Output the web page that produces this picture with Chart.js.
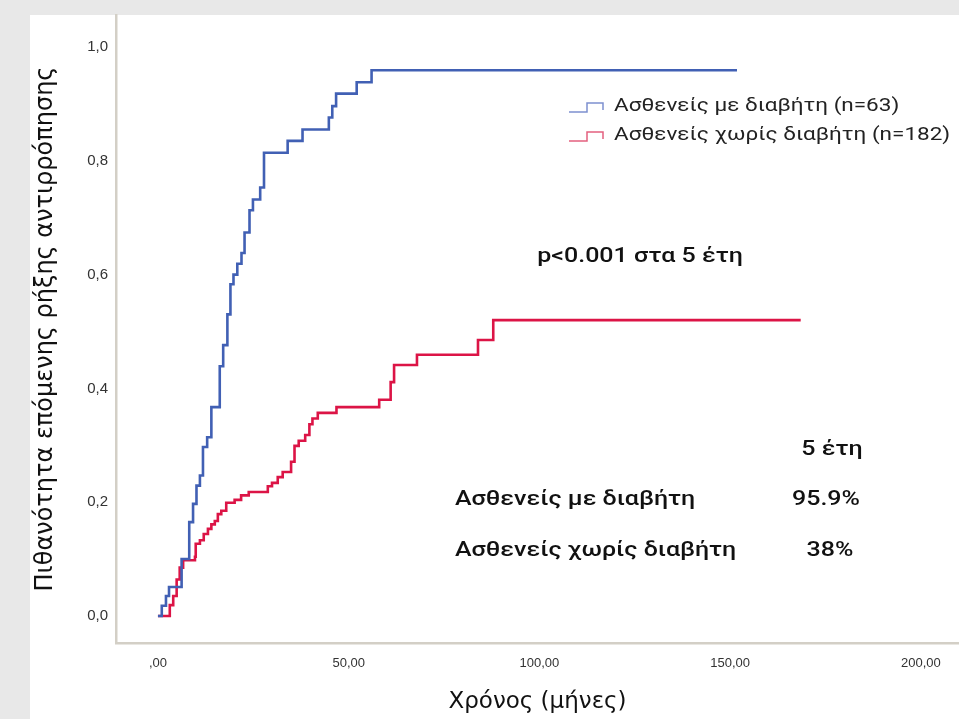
<!DOCTYPE html>
<html>
<head>
<meta charset="utf-8">
<script src="https://cdn.jsdelivr.net/npm/chart.js@4.4.1/dist/chart.umd.min.js"></script>
<style>
  html, body { margin: 0; padding: 0; background: #e8e8e8; }
  #wrap { position: absolute; left: 0; top: 0; width: 959px; height: 719px; }
</style>
</head>
<body>
<div id="wrap"><canvas id="c" width="959" height="719"></canvas></div>
<script>
// ---- Data ----
const seriesNames = ['Ασθενείς με διαβήτη (n=63)', 'Ασθενείς χωρίς διαβήτη (n=182)'];

const diabTimes = [0, 1.0, 2.1, 2.9, 6.2, 8.2, 9.2, 10.1, 11.0, 11.8, 12.9, 14.0, 16.2, 17.1, 18.2, 19.0, 19.8, 20.8, 21.9, 22.7, 24.0, 24.9, 26.8, 27.8, 34.0, 37.9, 44.8, 45.7, 46.7, 52.1, 56.0, 151.8];
const diabProbs = [0, 0.018, 0.035, 0.051, 0.100, 0.165, 0.197, 0.229, 0.247, 0.297, 0.314, 0.367, 0.439, 0.476, 0.530, 0.583, 0.600, 0.619, 0.638, 0.674, 0.713, 0.732, 0.753, 0.814, 0.835, 0.855, 0.876, 0.896, 0.918, 0.938, 0.959, 0.959];

const noDiabTimes = [0, 3.1, 4.0, 4.9, 5.7, 6.6, 9.7, 9.9, 11.0, 12.0, 13.1, 14.0, 14.9, 15.7, 16.6, 17.9, 20.1, 21.8, 23.8, 28.8, 29.9, 31.4, 32.7, 34.9, 35.8, 36.9, 38.6, 39.7, 40.5, 41.9, 46.8, 58.0, 61.0, 61.9, 67.9, 83.9, 87.9, 168.5];
const noDiabProbs = [0, 0.019, 0.035, 0.064, 0.085, 0.098, 0.104, 0.127, 0.133, 0.144, 0.153, 0.161, 0.167, 0.179, 0.185, 0.199, 0.204, 0.212, 0.218, 0.228, 0.234, 0.244, 0.253, 0.271, 0.299, 0.308, 0.318, 0.337, 0.347, 0.357, 0.367, 0.380, 0.411, 0.441, 0.459, 0.485, 0.520, 0.520];

const yTickValues = [0, 0.2, 0.4, 0.6, 0.8, 1.0];
const yTickLabels = ['0,0', '0,2', '0,4', '0,6', '0,8', '1,0'];
const xTickValues = [0, 50, 100, 150, 200];
const xTickLabels = [',00', '50,00', '100,00', '150,00', '200,00'];

const xTitle = 'Χρόνος (μήνες)';
const yTitle = 'Πιθανότητα επόμενης ρήξης αντιρρόπησης';
const pText = 'p<0.001 στα 5 έτη';
const tableHeader = '5 έτη';
const tableRows = ['Ασθενείς με διαβήτη', 'Ασθενείς χωρίς διαβήτη'];
const tableValues = ['95.9%', '38%'];

const blue = '#4160b4';
const red = '#dc1446';
const blueLegend = '#7d90cf';
const redLegend = '#e4607f';

function toPoints(xs, ys) { return xs.map((x, i) => ({ x: x, y: ys[i] })); }

function wideText(ctx, text, x, y, align, font, sx) {
  ctx.save();
  ctx.translate(x, y);
  ctx.scale(sx, 1);
  ctx.font = font;
  ctx.textAlign = align;
  ctx.textBaseline = 'middle';
  ctx.fillText(text, 0, 0);
  ctx.restore();
}

const bgPlugin = {
  id: 'bg',
  beforeDraw(chart) {
    const ctx = chart.ctx;
    ctx.save();
    ctx.fillStyle = '#e8e8e8';
    ctx.fillRect(0, 0, chart.width, chart.height);
    ctx.fillStyle = '#ffffff';
    ctx.fillRect(30, 15, chart.width - 30, chart.height - 15);
    ctx.restore();
  }
};

const annotPlugin = {
  id: 'annot',
  afterDraw(chart) {
    const ctx = chart.ctx;
    ctx.save();
    // legend
    const legendFont = '18px Roboto';
    const items = [
      { y: 104, color: blueLegend, text: seriesNames[0] },
      { y: 133, color: redLegend, text: seriesNames[1] }
    ];
    items.forEach(it => {
      ctx.strokeStyle = it.color;
      ctx.lineWidth = 1.5;
      ctx.beginPath();
      ctx.moveTo(569, it.y + 8);
      ctx.lineTo(587, it.y + 8);
      ctx.lineTo(587, it.y - 1);
      ctx.lineTo(603, it.y - 1);
      ctx.lineTo(603, it.y + 6);
      ctx.stroke();
      ctx.fillStyle = '#222222';
      wideText(ctx, it.text, 614, it.y + 2, 'left', legendFont, 1.25);
    });
    // p-value and table
    ctx.fillStyle = '#111111';
    const f = '500 20px Roboto';
    const sx = 1.25;
    wideText(ctx, pText, 640, 257, 'center', f, sx);
    wideText(ctx, tableHeader, 832, 450, 'center', f, sx);
    wideText(ctx, tableRows[0], 455, 500, 'left', f, sx);
    wideText(ctx, tableRows[1], 455, 551, 'left', f, sx);
    wideText(ctx, tableValues[0], 826, 500, 'center', f, sx);
    wideText(ctx, tableValues[1], 830, 551, 'center', f, sx);
    ctx.restore();
  }
};

new Chart(document.getElementById('c'), {
  type: 'line',
  data: {
    datasets: [
      {
        label: seriesNames[0],
        data: toPoints(diabTimes, diabProbs),
        borderColor: blue,
        borderWidth: 2.6,
        stepped: true,
        pointRadius: 0,
        fill: false
      },
      {
        label: seriesNames[1],
        data: toPoints(noDiabTimes, noDiabProbs),
        borderColor: red,
        borderWidth: 2.6,
        stepped: true,
        pointRadius: 0,
        fill: false
      }
    ]
  },
  options: {
    responsive: false,
    animation: false,
    devicePixelRatio: 1,
    layout: { padding: { top: 15, left: 0, right: 0, bottom: 0 } },
    plugins: { legend: { display: false }, tooltip: { enabled: false } },
    scales: {
      x: {
        type: 'linear',
        min: -11,
        max: 210,
        grid: { display: false },
        border: { display: true, color: '#d3cfc6', width: 2.5 },
        afterFit(s) { s.height = 76; },
        afterBuildTicks(s) { s.ticks = xTickValues.map(v => ({ value: v })); },
        ticks: {
          color: '#333333',
          font: { family: 'Liberation Sans', size: 13 },
          padding: 5,
          maxRotation: 0,
          callback(v) { const i = xTickValues.indexOf(v); return i >= 0 ? xTickLabels[i] : ''; }
        },
        title: {
          display: true,
          text: xTitle,
          color: '#111111',
          font: { family: 'DejaVu Sans', size: 23 },
          padding: { top: 0, bottom: 3 }
        }
      },
      y: {
        type: 'linear',
        min: -0.0475,
        max: 1.0562,
        grid: { display: false },
        border: { display: true, color: '#d3cfc6', width: 2.5 },
        afterFit(s) { s.width = 116; },
        afterBuildTicks(s) { s.ticks = yTickValues.map(v => ({ value: v })); },
        ticks: {
          color: '#333333',
          font: { family: 'Liberation Sans', size: 15 },
          padding: 0,
          callback(v) { const i = yTickValues.findIndex(t => Math.abs(t - v) < 1e-9); return i >= 0 ? yTickLabels[i] : ''; }
        },
        title: {
          display: true,
          text: yTitle,
          color: '#111111',
          font: { family: 'DejaVu Sans', size: 24 },
          padding: { top: 31, bottom: 0 }
        }
      }
    }
  },
  plugins: [bgPlugin, annotPlugin]
});
</script>
</body>
</html>
